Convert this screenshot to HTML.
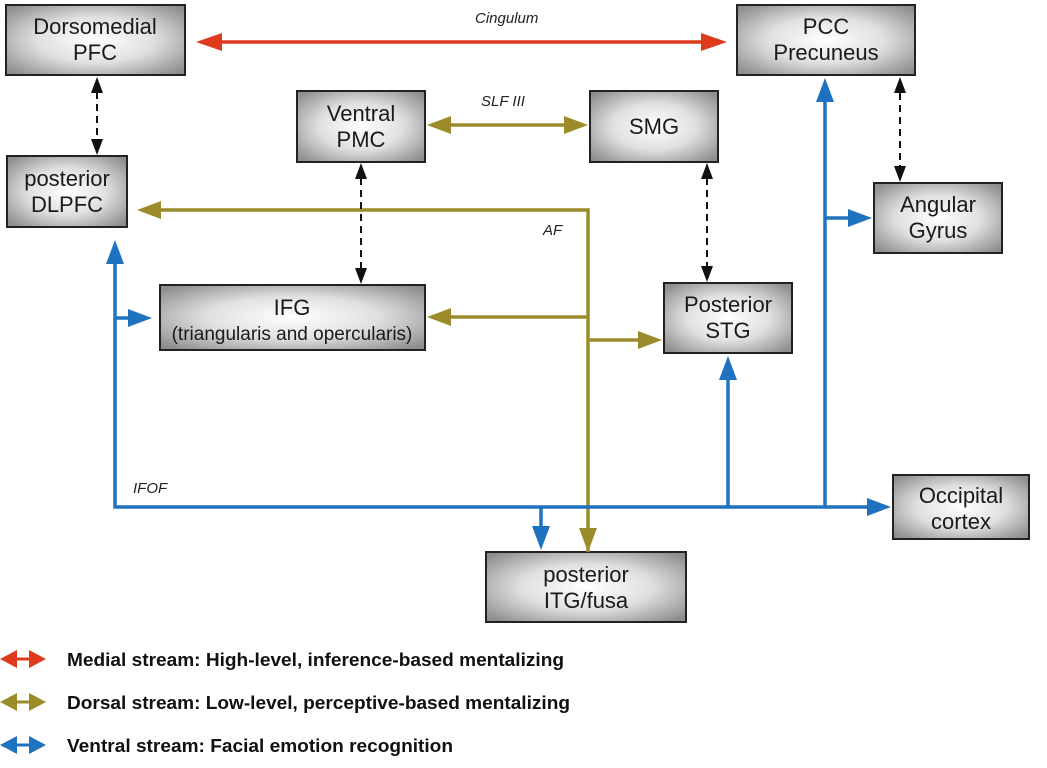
<!DOCTYPE html>
<html><head><meta charset="utf-8"><style>
html,body{margin:0;padding:0;background:#fff;}
svg{display:block;}
text{font-family:"Liberation Sans",Arial,sans-serif;}
.b{font-size:22px;fill:#1a1a1a;text-anchor:middle;}
.l{font-size:15px;font-style:italic;fill:#222;}
.g{font-size:18px;font-weight:bold;fill:#111;}
</style></head><body>
<svg width="1047" height="768" viewBox="0 0 1047 768" xmlns="http://www.w3.org/2000/svg">
<defs>
<radialGradient id="gr" cx="50%" cy="50%" r="65%">
<stop offset="0" stop-color="#ffffff"/><stop offset="0.5" stop-color="#e0e0e0"/><stop offset="1" stop-color="#8e8e8e"/>
</radialGradient>
</defs>
<g stroke="#222" stroke-width="2" fill="url(#gr)">
<rect x="6" y="5" width="179" height="70"/>
<rect x="7" y="156" width="120" height="71"/>
<rect x="297" y="91" width="128" height="71"/>
<rect x="160" y="285" width="265" height="65"/>
<rect x="590" y="91" width="128" height="71"/>
<rect x="737" y="5" width="178" height="70"/>
<rect x="874" y="183" width="128" height="70"/>
<rect x="664" y="283" width="128" height="70"/>
<rect x="893" y="475" width="136" height="64"/>
<rect x="486" y="552" width="200" height="70"/>
</g>
<g class="b">
<text x="95" y="34">Dorsomedial</text><text x="95" y="60">PFC</text>
<text x="67" y="186">posterior</text><text x="67" y="212">DLPFC</text>
<text x="361" y="121">Ventral</text><text x="361" y="147">PMC</text>
<text x="292" y="315">IFG</text><text x="292" y="340" style="font-size:19px">(triangularis and opercularis)</text>
<text x="654" y="134">SMG</text>
<text x="826" y="34">PCC</text><text x="826" y="60">Precuneus</text>
<text x="938" y="212">Angular</text><text x="938" y="238">Gyrus</text>
<text x="728" y="312">Posterior</text><text x="728" y="338">STG</text>
<text x="961" y="503">Occipital</text><text x="961" y="529">cortex</text>
<text x="586" y="582">posterior</text><text x="586" y="608">ITG/fusa</text>
</g>
<text class="l" x="475" y="23">Cingulum</text>
<text class="l" x="481" y="106">SLF III</text>
<text class="l" x="543" y="235">AF</text>
<text class="l" x="133" y="493">IFOF</text>
<line x1="215" y1="42" x2="707" y2="42" stroke="#e03a1e" stroke-width="3.5"/>
<polygon points="196,42 222,33 222,51" fill="#e03a1e"/>
<polygon points="727,42 701,33 701,51" fill="#e03a1e"/>
<g stroke="#9c8b2a" stroke-width="3.5" fill="none">
<line x1="445" y1="125" x2="570" y2="125"/>
<polyline points="588,552 588,210 155,210"/>
<line x1="588" y1="317" x2="445" y2="317"/>
<line x1="588" y1="340" x2="645" y2="340"/>
</g>
<g fill="#9c8b2a">
<polygon points="427,125 451,116 451,134"/>
<polygon points="588,125 564,116 564,134"/>
<polygon points="137,210 161,201 161,219"/>
<polygon points="427,317 451,308 451,326"/>
<polygon points="662,340 638,331 638,349"/>
<polygon points="588,552 579,528 597,528"/>
</g>
<g stroke="#1f72c0" stroke-width="3.5" fill="none">
<polyline points="115,258 115,507 875,507"/>
<line x1="115" y1="318" x2="135" y2="318"/>
<line x1="541" y1="507" x2="541" y2="532"/>
<line x1="728" y1="507" x2="728" y2="375"/>
<line x1="825" y1="507" x2="825" y2="97"/>
<line x1="825" y1="218" x2="855" y2="218"/>
</g>
<g fill="#1f72c0">
<polygon points="115,240 106,264 124,264"/>
<polygon points="152,318 128,309 128,327"/>
<polygon points="541,550 532,526 550,526"/>
<polygon points="728,356 719,380 737,380"/>
<polygon points="825,78 816,102 834,102"/>
<polygon points="872,218 848,209 848,227"/>
<polygon points="891,507 867,498 867,516"/>
</g>
<g stroke="#111" stroke-width="2" stroke-dasharray="7,5">
<line x1="97" y1="92" x2="97" y2="140"/>
<line x1="361" y1="178" x2="361" y2="268"/>
<line x1="707" y1="178" x2="707" y2="266"/>
<line x1="900" y1="93" x2="900" y2="166"/>
</g>
<g fill="#111">
<polygon points="97,77 91,93 103,93"/><polygon points="97,155 91,139 103,139"/>
<polygon points="361,163 355,179 367,179"/><polygon points="361,284 355,268 367,268"/>
<polygon points="707,163 701,179 713,179"/><polygon points="707,282 701,266 713,266"/>
<polygon points="900,77 894,93 906,93"/><polygon points="900,182 894,166 906,166"/>
</g>
<g stroke-width="3">
<line x1="12" y1="659" x2="34" y2="659" stroke="#e03a1e"/>
<line x1="12" y1="702" x2="34" y2="702" stroke="#9c8b2a"/>
<line x1="12" y1="745" x2="34" y2="745" stroke="#1f72c0"/>
</g>
<polygon points="0,659 17,650 17,668" fill="#e03a1e"/><polygon points="46,659 29,650 29,668" fill="#e03a1e"/>
<polygon points="0,702 17,693 17,711" fill="#9c8b2a"/><polygon points="46,702 29,693 29,711" fill="#9c8b2a"/>
<polygon points="0,745 17,736 17,754" fill="#1f72c0"/><polygon points="46,745 29,736 29,754" fill="#1f72c0"/>
<text class="g" x="67" y="666" textLength="497" lengthAdjust="spacingAndGlyphs">Medial stream: High-level, inference-based mentalizing</text>
<text class="g" x="67" y="709" textLength="503" lengthAdjust="spacingAndGlyphs">Dorsal stream: Low-level, perceptive-based mentalizing</text>
<text class="g" x="67" y="752" textLength="386" lengthAdjust="spacingAndGlyphs">Ventral stream: Facial emotion recognition</text>
</svg>
</body></html>
